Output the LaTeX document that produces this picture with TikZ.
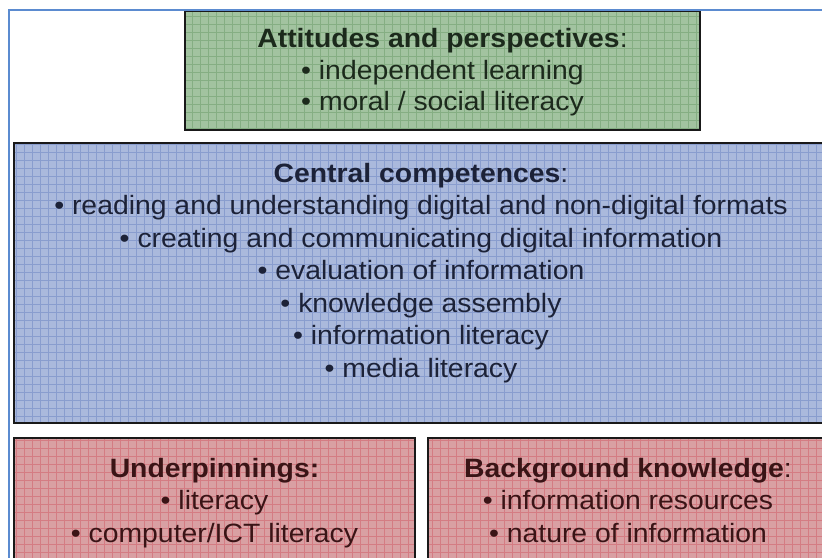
\documentclass[tikz,border=0pt]{standalone}
\usepackage{fontspec}
\setmainfont{Liberation Sans}[FakeStretch=1.07]
\definecolor{frameblue}{HTML}{5B8BD0}
\definecolor{gfill}{HTML}{A2C3A0}
\definecolor{ggrid}{HTML}{6E9E6C}
\definecolor{bfill}{HTML}{AAB9DC}
\definecolor{bgrid}{HTML}{6F86C4}
\definecolor{rfill}{HTML}{D9A0A3}
\definecolor{rgrid}{HTML}{D0606A}
\definecolor{gtext}{HTML}{1C2A1C}
\definecolor{btext}{HTML}{1C2238}
\definecolor{rtext}{HTML}{3A1416}
\tikzset{
  boxline/.style={draw=black!90, line width=2.6pt},
  gridline/.style={line width=0.7pt, opacity=0.55},
  txt/.style={anchor=base, inner sep=0pt, font=\fontsize{26.5}{31}\selectfont},
}
\begin{document}
\begin{tikzpicture}[x=1pt,y=-1pt]
\useasboundingbox (0,0) rectangle (822,557);
\fill[white] (0,0) rectangle (822,557);
% green box
\begin{scope}
\clip (185,11) rectangle (700,130);
\fill[gfill] (185,11) rectangle (700,130);
\draw[ggrid,gridline,step=8pt] (185,0) grid (700,130);
\end{scope}
\draw[boxline] (185,11) rectangle (700,130);
% blue box
\begin{scope}
\clip (14,143) rectangle (830,423);
\fill[bfill] (14,143) rectangle (830,423);
\draw[bgrid,gridline,step=8pt] (14,136) grid (830,423);
\end{scope}
\draw[boxline] (14,143) rectangle (830,423);
% red boxes
\begin{scope}
\clip (14,438) rectangle (415,570);
\fill[rfill] (14,438) rectangle (415,570);
\draw[rgrid,gridline,step=8pt] (14,432) grid (415,570);
\end{scope}
\draw[boxline] (14,570) -- (14,438) -- (415,438) -- (415,570);
\begin{scope}
\clip (428,438) rectangle (830,570);
\fill[rfill] (428,438) rectangle (830,570);
\draw[rgrid,gridline,step=8pt] (428,432) grid (830,570);
\end{scope}
\draw[boxline] (428,570) -- (428,438) -- (830,438);
% outer frame
\draw[frameblue, line width=1.6pt] (9,570) -- (9,10) -- (830,10);
% texts green
\node[txt, text=gtext] (g0) at (442.5,47) {\textbf{Attitudes and perspectives}:};
\node[txt, text=gtext] (g1) at (442.5,79) {• independent learning};
\node[txt, text=gtext] (g2) at (442.5,110.5) {• moral / social literacy};
% texts blue
\node[txt, text=btext] (b0) at (421,182) {\textbf{Central competences}:};
\node[txt, text=btext] (b1) at (421,214.5) {• reading and understanding digital and non-digital formats};
\node[txt, text=btext] (b2) at (421,247) {• creating and communicating digital information};
\node[txt, text=btext] (b3) at (421,279.5) {• evaluation of information};
\node[txt, text=btext] (b4) at (421,312) {• knowledge assembly};
\node[txt, text=btext] (b5) at (421,344.5) {• information literacy};
\node[txt, text=btext] (b6) at (421,377) {• media literacy};
% texts red
\node[txt, text=rtext] (r0) at (214.5,477) {\textbf{Underpinnings:}};
\node[txt, text=rtext] (r1) at (214.5,509.5) {• literacy};
\node[txt, text=rtext] (r2) at (214.5,542) {• computer/ICT literacy};
\node[txt, text=rtext] (s0) at (628,477) {\textbf{Background knowledge}:};
\node[txt, text=rtext] (s1) at (628,509.5) {• information resources};
\node[txt, text=rtext] (s2) at (628,542) {• nature of information};
\end{tikzpicture}
\end{document}
